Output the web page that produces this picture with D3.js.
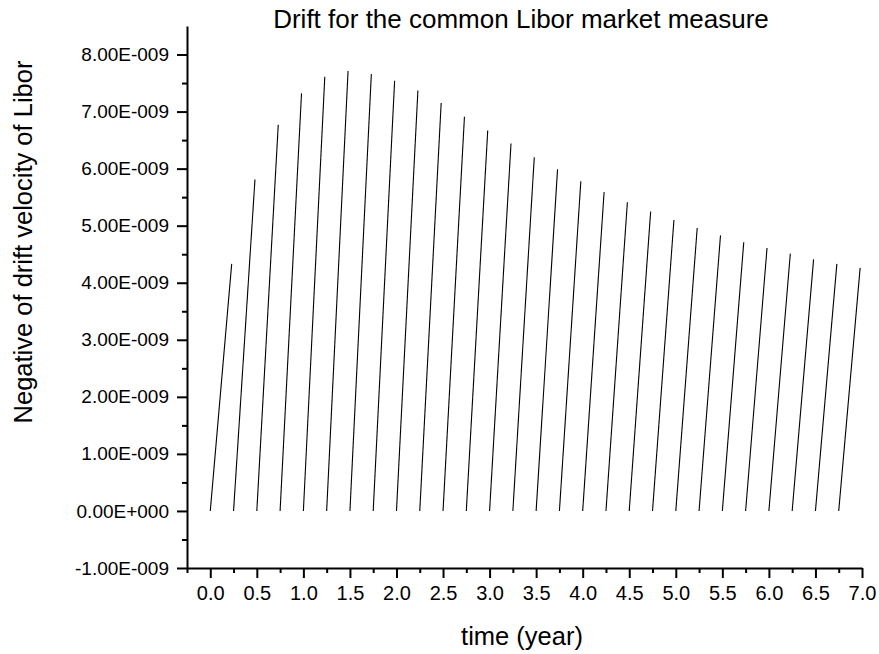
<!DOCTYPE html>
<html>
<head>
<meta charset="utf-8">
<title>Drift for the common Libor market measure</title>
<script src="https://cdn.jsdelivr.net/npm/d3@7"></script>
<style>
  html, body { margin: 0; padding: 0; background: #fff; }
  svg text { font-family: Arial, "Liberation Sans", sans-serif; fill: #000; }
  .axis path, .axis line { stroke: #000; stroke-width: 2; }
</style>
</head>
<body>
<svg id="chart" width="879" height="654"></svg>
<script>
// start and end of each accrual period (years)
var periodStart = [0.00, 0.25, 0.50, 0.75, 1.00, 1.25, 1.50, 1.75, 2.00, 2.25, 2.50, 2.75, 3.00, 3.25,
                   3.50, 3.75, 4.00, 4.25, 4.50, 4.75, 5.00, 5.25, 5.50, 5.75, 6.00, 6.25, 6.50, 6.75];
var periodEnd   = [0.23, 0.48, 0.73, 0.98, 1.23, 1.48, 1.73, 1.98, 2.23, 2.48, 2.73, 2.98, 3.23, 3.48,
                   3.73, 3.98, 4.23, 4.48, 4.73, 4.98, 5.23, 5.48, 5.73, 5.98, 6.23, 6.48, 6.73, 6.98];
// drift at start of each period is 0, drift at end (in units of 1e-9)
var driftStart  = [0, 0, 0, 0, 0, 0, 0, 0, 0, 0, 0, 0, 0, 0, 0, 0, 0, 0, 0, 0, 0, 0, 0, 0, 0, 0, 0, 0];
var driftEnd    = [4.33, 5.81, 6.77, 7.32, 7.61, 7.71, 7.66, 7.54, 7.37, 7.15, 6.91, 6.67, 6.44, 6.20,
                   5.99, 5.78, 5.59, 5.41, 5.25, 5.10, 4.96, 4.83, 4.71, 4.61, 4.51, 4.41, 4.33, 4.26];

var xMajor = [0, 0.5, 1, 1.5, 2, 2.5, 3, 3.5, 4, 4.5, 5, 5.5, 6, 6.5, 7];
var xMinor = [-0.25, 0.25, 0.75, 1.25, 1.75, 2.25, 2.75, 3.25, 3.75, 4.25, 4.75, 5.25, 5.75, 6.25, 6.75];
var yMajor = [-1, 0, 1, 2, 3, 4, 5, 6, 7, 8];
var yMinor = [-0.5, 0.5, 1.5, 2.5, 3.5, 4.5, 5.5, 6.5, 7.5];

var svg = d3.select('#chart');
var plotLeft = 187, plotRight = 862, plotTop = 26, plotBottom = 568;

var x = d3.scaleLinear().domain([-0.25, 7]).range([plotLeft, plotRight]);
var y = d3.scaleLinear().domain([-1, 8.5]).range([plotBottom, plotTop]);

function sci(v) {
  if (v === 0) return '0.00E+000';
  return v.toFixed(2) + 'E-009';
}

// minor ticks first
svg.append('g').attr('class', 'axis')
  .attr('transform', 'translate(0,' + plotBottom + ')')
  .call(d3.axisBottom(x).tickValues(xMinor).tickSize(5).tickFormat(''))
  .call(g => g.select('.domain').remove());
svg.append('g').attr('class', 'axis')
  .attr('transform', 'translate(' + plotLeft + ',0)')
  .call(d3.axisLeft(y).tickValues(yMinor).tickSize(5).tickFormat(''))
  .call(g => g.select('.domain').remove());

var xAxis = svg.append('g').attr('class', 'axis')
  .attr('transform', 'translate(0,' + plotBottom + ')')
  .call(d3.axisBottom(x).tickValues(xMajor).tickSize(10).tickSizeOuter(0).tickPadding(8)
    .tickFormat(d3.format('.1f')));
xAxis.selectAll('text').attr('font-size', 20);

var yAxis = svg.append('g').attr('class', 'axis')
  .attr('transform', 'translate(' + plotLeft + ',0)')
  .call(d3.axisLeft(y).tickValues(yMajor).tickSize(10).tickSizeOuter(0).tickPadding(8)
    .tickFormat(sci));
yAxis.selectAll('text').attr('font-size', 19);

// drift segments
var segs = periodStart.map((s, i) => [[s, driftStart[i]], [periodEnd[i], driftEnd[i]]]);
var line = d3.line().x(d => x(d[0])).y(d => y(d[1]));
svg.append('g').selectAll('path')
  .data(segs)
  .enter().append('path')
  .attr('d', line)
  .attr('fill', 'none')
  .attr('stroke', '#000')
  .attr('stroke-width', 1.1);

svg.append('text')
  .attr('x', 521).attr('y', 28)
  .attr('text-anchor', 'middle')
  .attr('font-size', 26)
  .text('Drift for the common Libor market measure');

svg.append('text')
  .attr('x', 522).attr('y', 645)
  .attr('text-anchor', 'middle')
  .attr('font-size', 25.5)
  .text('time (year)');

svg.append('text')
  .attr('transform', 'translate(32,242) rotate(-90)')
  .attr('text-anchor', 'middle')
  .attr('font-size', 25.5)
  .text('Negative of drift velocity of Libor');
</script>
</body>
</html>
